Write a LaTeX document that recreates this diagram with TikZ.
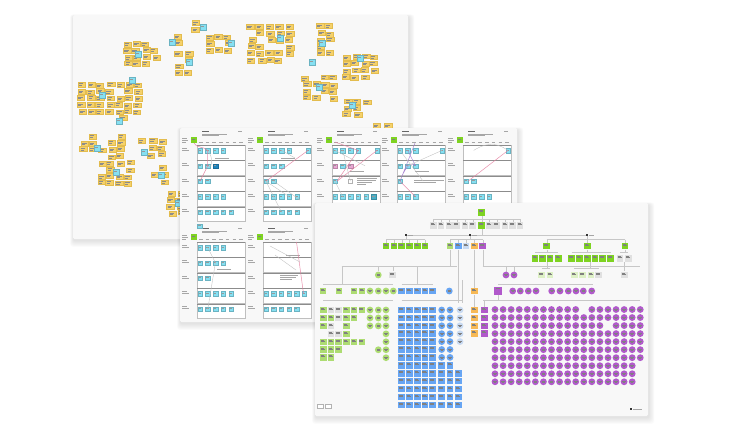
\documentclass[tikz,border=0pt]{standalone}
\usepackage{tikz}
\definecolor{ystk}{HTML}{F5D16A}
\definecolor{ystkd}{HTML}{E3BC4E}
\definecolor{cstk}{HTML}{86E0F2}
\definecolor{dstk}{HTML}{1F86BE}
\definecolor{tstk}{HTML}{4AB0C8}
\definecolor{pstk}{HTML}{E9A6D2}
\definecolor{pline}{HTML}{E57C9E}
\definecolor{vline}{HTML}{A884D0}
\definecolor{board}{HTML}{F8F8F8}
\definecolor{ggreen}{HTML}{7ED321}
\definecolor{lgreen}{HTML}{ADDC72}
\definecolor{pgreen}{HTML}{DDF0C6}
\definecolor{bblue}{HTML}{67A5F3}
\definecolor{lblue}{HTML}{C8DAF2}
\definecolor{oorange}{HTML}{F7B955}
\definecolor{ppurple}{HTML}{B159CB}
\definecolor{ggray}{HTML}{E0E0E0}
\tikzset{
 txt/.style={black!60,line width=0.45pt},
 txtl/.style={black!35,line width=0.35pt},
 lanebox/.style={draw=black!25,fill=white,line width=0.35pt},
 lanebar/.style={draw=black!45,line width=1pt},
 tree/.style={draw=black!22,line width=0.4pt},
 pinkl/.style={draw=pline,line width=0.5pt,opacity=0.85},
 grayl/.style={draw=black!25,line width=0.35pt},
}
\newcommand\yel[2]{\filldraw[fill=ystk,draw=ystkd,line width=0.2pt] (#1-3.7,#2-2.4) rectangle (#1+3.7,#2+2.4);\draw[black!45,line width=0.3pt] (#1-2.6,#2-0.7) -- (#1+1.8,#2-0.7) (#1-2.6,#2+0.8) -- (#1+0.5,#2+0.8);}
\newcommand\cya[2]{\filldraw[fill=cstk,draw=cstk!80!black,line width=0.2pt] (#1-2.6,#2-2.6) rectangle (#1+2.6,#2+2.6);\draw[black!40,line width=0.3pt] (#1-1.6,#2-0.5) -- (#1+1.2,#2-0.5);}
\newcommand\bst[3]{\filldraw[fill=#1,draw=#1!80!black,line width=0.2pt] (#2-2.2,#3-2.2) rectangle (#2+2.2,#3+2.2);\draw[black!40,line width=0.25pt] (#2-1.4,#3-0.6) -- (#2+1,#3-0.6);}
\newcommand\sq[3]{\fill[#1] (#2-3.3,#3-3.3) rectangle (#2+3.3,#3+3.3);\draw[black!50,line width=0.3pt] (#2-2.5,#3-2.1) -- (#2+0.8,#3-2.1) (#2-2.5,#3-1.1) -- (#2+1.6,#3-1.1);}
\newcommand\ci[3]{\fill[#1] (#2,#3) circle (3.4);\draw[black!50,line width=0.3pt] (#2-1.8,#3-0.6) -- (#2+1.8,#3-0.6) (#2-1.2,#3+0.5) -- (#2+1.2,#3+0.5);}
\newcommand\cluster[4]{\foreach \ii in {1,...,#3}{\foreach \jj in {1,...,#4}{%
  \pgfmathsetmacro\px{#1+(\ii-(#3+1)/2)*9.3+rand*1.6}%
  \pgfmathsetmacro\py{#2+(\jj-(#4+1)/2)*6.7+rand*1.0}%
  \pgfmathtruncatemacro\keep{rnd>0.15 ? 1 : 0}%
  \ifnum\keep=1 \yel{\px}{\py}\fi}}}
\newcommand\board[4]{%
 \foreach \k in {1,...,7}{\fill[black,opacity=0.016,rounded corners=3pt] (#1-\k*0.5+0.5,#2-\k*0.3+1.5) rectangle (#3+\k*0.8+0.8,#4+\k*0.9+1.5);}
 \fill[board,rounded corners=1.5pt] (#1,#2) rectangle (#3,#4);}
\newcommand\panel[2]{%
 \fill[ggreen] (#1-6.3,#2-7.7) rectangle (#1-0.3,#2-1.7);
 \draw[black!50,line width=0.3pt] (#1-5.3,#2-6) -- (#1-2,#2-6);
 \draw[txt] (#1+5,#2-13.5) -- (#1+12,#2-13.5);
 \draw[txtl] (#1+5,#2-11) -- (#1+30,#2-11) (#1+5,#2-9.5) -- (#1+22,#2-9.5);
 \draw[txtl] (#1+41,#2-13.5) -- (#1+45,#2-13.5);
 \draw[txtl] (#1-15,#2-7) -- (#1-10,#2-7) (#1-15,#2-5) -- (#1-9,#2-5) (#1-15,#2-3) -- (#1-11,#2-3);
 \foreach \k in {0,...,6}{\draw[txtl] (#1+2+\k*6.7,#2-2.5) -- (#1+5.5+\k*6.7,#2-2.5);}
 \foreach \k in {0,...,4}{%
   \filldraw[lanebox] (#1,#2+\k*15.4) rectangle (#1+48,#2+\k*15.4+15);
   \draw[lanebar] (#1,#2+\k*15.4+0.5) -- (#1+48,#2+\k*15.4+0.5);
   \draw[txtl] (#1-15,#2+\k*15.4+3) -- (#1-10,#2+\k*15.4+3) (#1-15,#2+\k*15.4+5) -- (#1-8,#2+\k*15.4+5);}
}
\begin{document}
\begin{tikzpicture}[x=1pt,y=-1pt]
\useasboundingbox (0,0) rectangle (750,429);
\fill[white] (0,0) rectangle (750,429);
\pgfmathsetseed{7}
% ================= board 1 =================
\board{73}{15}{408}{239}
\cluster{196}{26}{1}{2}
\cluster{218}{43}{3}{3}
\cluster{178}{40}{1}{2}
\cluster{141}{54}{4}{4}
\cluster{184}{63}{2}{4}
\cluster{270}{43}{5}{6}
\cluster{325}{40}{2}{5}
\cluster{360}{67}{4}{4}
\cluster{320}{88}{4}{4}
\cluster{357}{108}{3}{3}
\cluster{382}{125}{2}{1}
\cluster{110}{98}{7}{5}
\cluster{123}{118}{1}{1}
\cluster{102}{146}{5}{4}
\cluster{115}{173}{4}{4}
\cluster{152}{148}{3}{3}
\cluster{159}{175}{2}{3}
\cluster{176}{203}{2}{4}
\foreach \x/\y in {203/27,231/43,172/42,138/54,189/62,280/38,322/43,312/62,360/58,319/87,352/105,132/80,102/95,119/121,97/148,116/172,144/152,161/175,178/203}{\cya{\x}{\y}}
% ================= board 2 =================
\board{180}{128}{517}{322}
\foreach \x/\y in {197/145,263/145,332/145,397/145,463/145,197/242,263/242}{\panel{\x}{\y}}
% lane captions
\foreach \x/\y in {215/158,281/158,350/171,415/171,286/255,217/269}{\draw[txtl] (\x,\y) -- (\x+14,\y);}
% panel 1
\foreach \j/\l in {0/0,1/0,2/0,3/0,0/1,1/1,0/2,1/2,0/3,1/3,2/3,3/3,0/4,1/4,2/4,3/4,4/4}{\bst{cstk}{200+7.7*\j}{150.4+15.4*\l}}
\bst{dstk}{215.4}{165.8}
% panel 2
\foreach \j/\l in {0/0,1/0,2/0,3/0,0/1,1/1,2/1,0/2,1/2,0/3,1/3,2/3,3/3,4/3,0/4,1/4,2/4,3/4,4/4}{\bst{cstk}{266+7.7*\j}{150.4+15.4*\l}}
\bst{cstk}{308}{150.4}
% panel 3
\foreach \j/\l in {0/0,1/0,2/0,3/0,1/1,0/2,0/3,1/3,2/3,3/3,4/3}{\bst{cstk}{335+7.7*\j}{150.4+15.4*\l}}
\bst{cstk}{377}{150.4}
\bst{pstk}{335}{165.8}\bst{pstk}{350.4}{165.8}
\bst{tstk}{373.5}{196.6}
\filldraw[fill=white,draw=black!30,line width=0.3pt] (348.2,179) rectangle (352.6,183.4);
\draw[txtl] (357,178) -- (377,178) (357,180) -- (376,180) (357,182) -- (372,182) (357,184) -- (366,184);
% panel 4
\foreach \j/\l in {0/0,1/0,2/0,0/1,1/1,2/1,0/2,0/3,1/3,2/3}{\bst{cstk}{400+7.7*\j}{150.4+15.4*\l}}
\bst{cstk}{442}{150.4}
\draw[txtl] (414,180) -- (444,180) (414,182) -- (436,182);
% panel 5
\foreach \j/\l in {0/2,1/2,0/3,1/3,2/3,3/3}{\bst{cstk}{466+7.7*\j}{150.4+15.4*\l}}
\bst{cstk}{508}{150.4}
% panel 6
\foreach \j/\l in {0/0,1/0,2/0,3/0,0/1,1/1,2/1,3/1,0/2,1/2,0/3,1/3,2/3,3/3,4/3,0/4,1/4,2/4,3/4,4/4}{\bst{cstk}{200+7.7*\j}{247.4+15.4*\l}}
\bst{cstk}{199.5}{226}
% panel 7
\foreach \j/\l in {0/3,1/3,2/3,3/3,4/3,5/3,0/4,1/4,2/4,3/4,4/4}{\bst{cstk}{266+7.6*\j}{247.4+15.4*\l}}
\draw[txtl] (280,275) -- (298,275) (280,277) -- (296,277) (280,279) -- (292,279);
% connector lines on board 2
\draw[pinkl] (194,143) .. controls (196,148) and (203,146) .. (207.7,150.4);
\draw[pinkl] (207.7,150.4) -- (207.7,165.8) -- (200,181.2);
\draw[grayl] (207.7,150.4) .. controls (214,158) and (212,170) .. (207.7,165.8);
\draw[pinkl] (308,150.4) -- (266,181.2);
\draw[grayl] (266,181.2) -- (289,196.6) (266,181.2) -- (281.4,212) (273.7,181.2) -- (300,200);
\draw[grayl] (281,150) -- (295,158);
\draw[pinkl] (335,142) -- (358.1,150.4) -- (337,181.2);
\draw[pinkl] (377,150.4) -- (337,181.2);
\draw[grayl] (342.7,150.4) -- (350.4,181.2) (335,150.4) -- (365,165.8) (335,181.2) -- (342.7,196.6);
\draw[draw=vline,line width=0.45pt] (415,143) -- (400,181.2) (400,181.2) .. controls (404,170) and (410,160) .. (415.4,165.8) (407.7,150.4) -- (415.4,165.8);
\draw[pinkl] (400,181.2) -- (415.4,196.6);
\draw[grayl] (400,150.4) -- (423,181) (407.7,165.8) -- (442,150.4);
\draw[pinkl] (508,150.4) -- (468,181.2);
\draw[grayl] (473.7,150.4) .. controls (490,140) and (500,145) .. (508,150.4);
\draw[grayl] (207.7,247.4) -- (215.4,262.8) -- (207.7,309.6);
\draw[pinkl] (296.5,242) -- (303.5,293.6);
\draw[grayl] (270,246) -- (300,262) (275,255) -- (296,270);
% ================= board 3 =================
\board{315}{203}{648}{416}
% tree lines
\draw[tree] (481.7,216) -- (481.7,222) (433.3,219.3) -- (520,219.3);
\foreach \x in {433.3,441,449.3,456.7,465,472.7,489.3,496.7,505,512.7,520}{\draw[tree] (\x,219.3) -- (\x,222);}
\draw[tree] (481.7,229) -- (481.7,235) (405.7,235) -- (587.3,235);
\draw[tree] (405.7,235) -- (405.7,239.5) (386,239.5) -- (425,239.5) (470,235) -- (470,239.5) (450,239.5) -- (482.7,239.5) (587.3,235) -- (587.3,239.5) (546.7,239.5) -- (625,239.5);
\foreach \x in {386,394,401.7,409.3,417.3,425,450,458.3,466,474.3,482.7,546.7,587.3,625}{\draw[tree] (\x,239.5) -- (\x,242.5);}
\draw[tree] (546.7,249.5) -- (546.7,252.5) (535,252.5) -- (558.3,252.5) (587.3,249.5) -- (587.3,252.5) (571.7,252.5) -- (610.7,252.5) (625,249.5) -- (625,252.5) (620,252.5) -- (628.3,252.5);
\draw[tree] (546.7,262) -- (546.7,268.5) (541.7,268.5) -- (550,268.5) (590,262) -- (590,268.5) (574.3,268.5) -- (598.7,268.5) (624.3,262) -- (624.3,271);
\draw[tree] (450,249.5) -- (450,266.5) (341.7,266.5) -- (456.7,266.5);
\foreach \x in {341.7,378.3,392.7,417}{\draw[tree] (\x,266.5) -- (\x,271);}
\draw[tree] (323,284.5) -- (393.3,284.5) (401.7,284.5) -- (432.7,284.5) (341.7,266.5) -- (341.7,284.5) (417,266.5) -- (417,284.5);
\draw[tree] (458.3,249.5) -- (458.3,303) (462,280) -- (462,303);
\draw[tree] (323,300) -- (393,300) (401.7,300) -- (462,300);
\draw[tree] (474.3,249.5) -- (474.3,287.5) (474.3,294.5) -- (474.3,306.5);
\draw[tree] (482.7,249.5) -- (482.7,266.5) (482.7,266.5) -- (640,266.5) (506,266.5) -- (506,271.6) (514,266.5) -- (514,271.6);
\draw[tree] (498.3,284.5) -- (593,284.5) (483,300) -- (640,300) (484.3,300) -- (484.3,306.5) (498.3,295) -- (498.3,300);
% markers on line
\foreach \x in {405.7,470,587.3}{\fill[black!80] (\x-0.9,234.1) rectangle (\x+0.9,235.9);\draw[txtl] (\x+2,235) -- (\x+7,235);}
% top
\sq{ggreen}{481.7}{212.7}
\foreach \x in {433.3,441,449.3,456.7,465,472.7,489.3,496.7,505,512.7,520}{\sq{ggray}{\x}{225.5}}
\sq{ggreen}{481.7}{225.5}
% row 246
\foreach \x in {386,394,401.7,409.3,417.3,425}{\sq{ggreen}{\x}{246}}
\sq{lgreen}{450}{246}\sq{bblue}{458.3}{246}\sq{lblue}{466}{246}\sq{oorange}{474.3}{246}\sq{ppurple}{482.7}{246}
\sq{ggreen}{546.7}{246}\sq{ggreen}{587.3}{246}\sq{ggreen}{625}{246}
% row 258.5
\foreach \x in {535,542.7,550,558.3,571.7,579.3,587.3,595,602.7,610.7}{\sq{ggreen}{\x}{258.5}}
\sq{ggray}{620}{258.5}\sq{ggray}{628.3}{258.5}
% row 275
\ci{lgreen}{378.3}{275}\sq{ggray}{392.7}{275}
\ci{ppurple}{506}{275}\ci{ppurple}{514}{275}
\foreach \x in {541.7,550,574.3,582.7,591}{\sq{pgreen}{\x}{275}}
\sq{ggray}{598.7}{275}\sq{ggray}{624.3}{275}
% row 291
\foreach \x in {323,339,354,362}{\sq{lgreen}{\x}{291}}
\foreach \x in {370,378.3,386,393.3}{\ci{lgreen}{\x}{291}}
\foreach \x in {401.7,409.3,417.3,425,432.7}{\sq{bblue}{\x}{291}}
\ci{bblue}{449.3}{291}
\sq{oorange}{474.3}{291}
\fill[ppurple] (494.3,287) rectangle (502.3,295);\draw[black!50,line width=0.3pt] (495.5,288.5) -- (499.5,288.5);
\foreach \x in {512.7,520.3,528.3,536,551.7,560,568.3,576,583.3,591.7}{\ci{ppurple}{\x}{291}}
% green grid
\foreach \c/\r/\col in {0/0/lgreen,1/0/ggray,2/0/ggray,3/0/lgreen,4/0/lgreen,5/0/lgreen,
 0/1/lgreen,1/1/lgreen,2/1/ggray,3/1/lgreen,4/1/lgreen,
 0/2/lgreen,1/2/ggray,3/2/lgreen,
 1/3/ggray,2/3/ggray,3/3/lgreen,
 0/4/lgreen,1/4/lgreen,2/4/lgreen,3/4/lgreen,4/4/lgreen,5/4/lgreen,
 0/5/lgreen,1/5/lgreen,2/5/lgreen,
 0/6/lgreen,1/6/lgreen}{\sq{\col}{323.3+7.7*\c}{310+7.95*\r}}
\foreach \x/\r in {370/0,370/1,370/2,378.3/0,378.3/1,378.3/2,378.3/5,386/0,386/1,386/2,386/3,386/4,386/5,386/6}{\ci{lgreen}{\x}{310+7.95*\r}}
% blue grid
\foreach \c in {0,...,4}{\foreach \r in {0,...,12}{\sq{bblue}{401.7+7.75*\c}{310+7.9*\r}}}
\foreach \r in {0,...,6}{\ci{bblue}{441.7}{310+7.9*\r}\ci{bblue}{450}{310+7.9*\r}}
\sq{bblue}{441.7}{365.3}\sq{bblue}{450}{365.3}
\foreach \r in {8,...,12}{\sq{bblue}{441.7}{310+7.9*\r}\sq{bblue}{450}{310+7.9*\r}\sq{bblue}{458.3}{310+7.9*\r}}
\foreach \r in {0,...,4}{\ci{lblue}{460}{310+7.9*\r}}
% orange and purple columns
\foreach \r in {0,...,3}{\sq{oorange}{474.3}{310+7.9*\r}\sq{ppurple}{484.3}{310+7.9*\r}}
% purple circle grid
\foreach \r in {0,...,9}{\foreach \c in {0,...,18}{%
  \pgfmathtruncatemacro\skp{((\r==0)&&(\c==11)) || ((\r==2)&&(\c==14)) || ((\r>6)&&(\c==18))}%
  \ifnum\skp=0 \ci{ppurple}{495+8.07*\c}{309.5+8.03*\r}\fi}}
% bottom small items
\draw[black!30,line width=0.3pt,fill=white] (317,404) rectangle (323,408.5) (325.3,404) rectangle (331.3,408.5);
\fill[black!80] (630,408.2) rectangle (631.8,410);
\draw[txtl] (633,409) -- (642,409);
\end{tikzpicture}
\end{document}
